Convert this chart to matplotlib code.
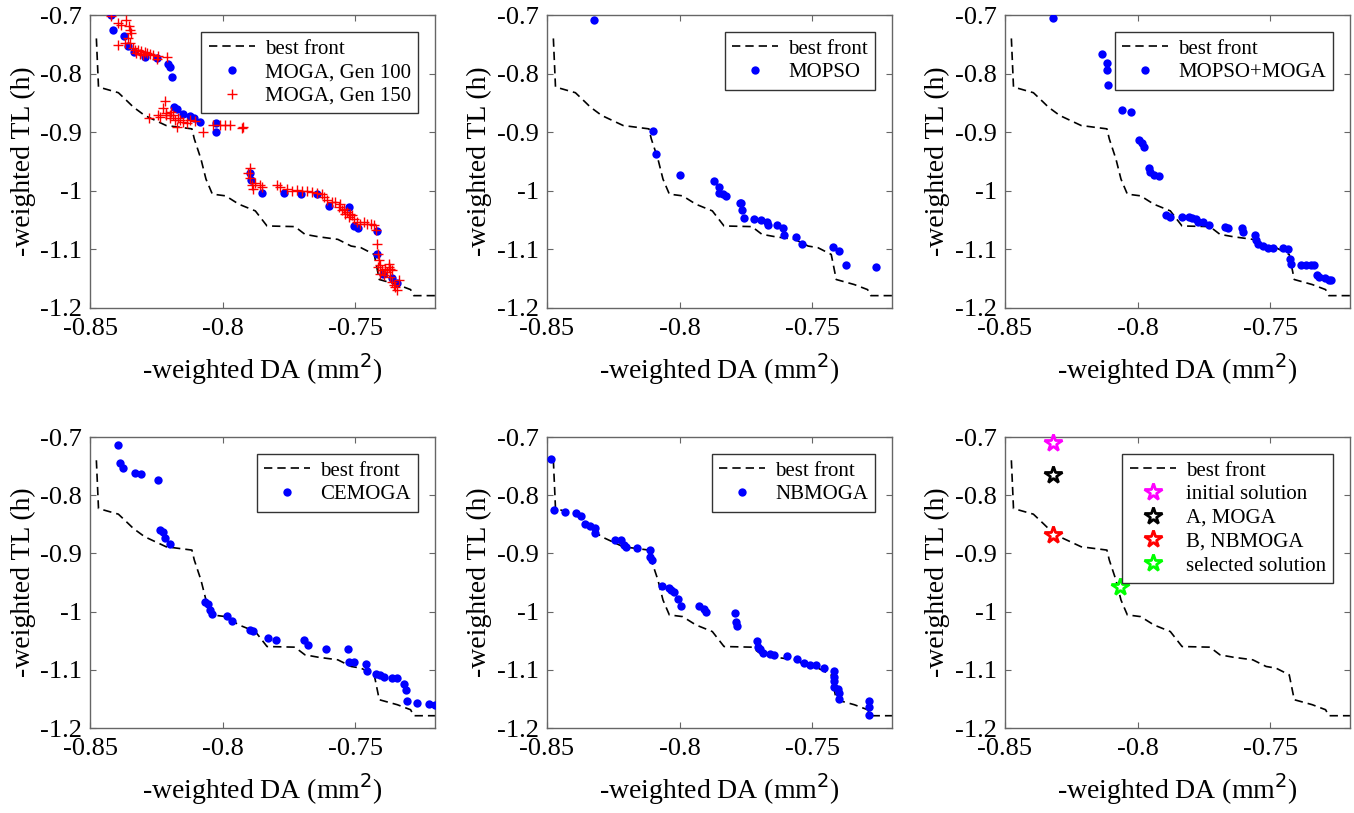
import matplotlib
matplotlib.use("Agg")
import matplotlib.pyplot as plt
from matplotlib.ticker import FixedLocator, FixedFormatter

plt.rcParams['font.family'] = ['Liberation Serif', 'DejaVu Serif']
plt.rcParams['axes.unicode_minus'] = False

# ---- data ----
front_x = [-0.8476, -0.8468, -0.8393, -0.8356, -0.8337, -0.8294, -0.8213, -0.8116, -0.8107, -0.8082,
           -0.8063, -0.8039, -0.7989, -0.7939, -0.7877, -0.7833, -0.7728, -0.7690, -0.7641, -0.7566,
           -0.7516, -0.7479, -0.7429, -0.7410, -0.7342, -0.7292, -0.7280, -0.7180]
front_y = [-0.7400, -0.8229, -0.8326, -0.8486, -0.8570, -0.8714, -0.8886, -0.8943, -0.9114, -0.9457,
           -0.9800, -1.0057, -1.0086, -1.0229, -1.0343, -1.0600, -1.0611, -1.0743, -1.0783, -1.0829,
           -1.0943, -1.0971, -1.1086, -1.1514, -1.1600, -1.1686, -1.1789, -1.1789]

moga100_x = [-0.8419, -0.8413, -0.8372, -0.8356, -0.8335, -0.8293, -0.8249, -0.8205, -0.8199, -0.8190,
             -0.8184, -0.8171, -0.8151, -0.8123, -0.8108, -0.8086, -0.8025, -0.8025, -0.7897, -0.7895,
             -0.7850, -0.7768, -0.7705, -0.7645, -0.7601, -0.7525, -0.7504, -0.7490, -0.7420, -0.7418,
             -0.7395, -0.7362, -0.7345]
moga100_y = [-0.7006, -0.7251, -0.7354, -0.7537, -0.7623, -0.7709, -0.7737, -0.7834, -0.7880, -0.8051,
             -0.8565, -0.8605, -0.8697, -0.8725, -0.8765, -0.8822, -0.8851, -0.8994, -0.9697, -0.9823,
             -1.0034, -1.0034, -1.0051, -1.0051, -1.0263, -1.0268, -1.0605, -1.0640, -1.0691, -1.1080,
             -1.1422, -1.1480, -1.1565]

moga150_x = [-0.8419, -0.8394, -0.8382, -0.8363, -0.8353, -0.8350, -0.8344, -0.8356, -0.8394, -0.8369,
             -0.8350, -0.8338, -0.8331, -0.8319, -0.8306, -0.8293, -0.8287, -0.8275, -0.8262, -0.8243,
             -0.8209, -0.8249, -0.8325, -0.8312, -0.8302,
             -0.8218, -0.8224, -0.8212, -0.8199, -0.8186, -0.8167, -0.8161, -0.8174, -0.8149, -0.8136,
             -0.8123, -0.8104, -0.8278, -0.8243, -0.8237, -0.8073, -0.8035, -0.8010, -0.7991, -0.7972,
             -0.7928, -0.7922, -0.8193, -0.8214, -0.8199, -0.8180,
             -0.7897, -0.7903, -0.7897, -0.7890, -0.7878, -0.7859, -0.7853, -0.7884, -0.7796, -0.7783,
             -0.7758, -0.7739, -0.7720, -0.7701, -0.7683, -0.7664, -0.7645, -0.7626, -0.7620, -0.7607,
             -0.7588, -0.7576, -0.7563, -0.7557, -0.7550, -0.7544, -0.7538, -0.7531, -0.7525, -0.7519,
             -0.7513, -0.7506, -0.7494, -0.7481, -0.7468, -0.7456, -0.7443, -0.7431, -0.7424,
             -0.7418, -0.7416, -0.7412, -0.7415, -0.7406, -0.7399, -0.7393, -0.7380, -0.7374, -0.7368,
             -0.7362, -0.7368, -0.7362, -0.7355, -0.7349, -0.7336, -0.7343, -0.7374, -0.7387, -0.7406]
moga150_y = [-0.7023, -0.7137, -0.7165, -0.7080, -0.7194, -0.7251, -0.7308, -0.7394, -0.7508, -0.7479,
             -0.7479, -0.7565, -0.7593, -0.7593, -0.7622, -0.7639, -0.7650, -0.7667, -0.7679, -0.7696,
             -0.7719, -0.7753, -0.7650, -0.7662, -0.7679,
             -0.8460, -0.8592, -0.8677, -0.8706, -0.8706, -0.8763, -0.8791, -0.8905, -0.8820, -0.8848,
             -0.8791, -0.8803, -0.8763, -0.8706, -0.8734, -0.8991, -0.8877, -0.8877, -0.8877, -0.8877,
             -0.8934, -0.8917, -0.8649, -0.8706, -0.8763, -0.8791,
             -0.9618, -0.9704, -0.9790, -0.9904, -0.9875, -0.9904, -0.9932, -0.9961, -0.9904, -0.9932,
             -0.9961, -1.0001, -0.9989, -1.0001, -1.0001, -1.0018, -1.0046, -1.0063, -1.0103, -1.0160,
             -1.0189, -1.0189, -1.0274, -1.0217, -1.0331, -1.0303, -1.0389, -1.0360, -1.0446, -1.0389,
             -1.0417, -1.0474, -1.0531, -1.0560, -1.0531, -1.0560, -1.0571, -1.0588, -1.0674,
             -1.0902, -1.1073, -1.1187, -1.1301, -1.1273, -1.1358, -1.1444, -1.1387, -1.1301, -1.1330,
             -1.1358, -1.1472, -1.1558, -1.1615, -1.1644, -1.1530, -1.1701, -1.1244, -1.1330, -1.1415]

mopso_x = [-0.8322, -0.8100, -0.8088, -0.7997, -0.7872, -0.7852, -0.7850, -0.7837, -0.7824, -0.7774,
           -0.7769, -0.7764, -0.7756, -0.7721, -0.7695, -0.7670, -0.7666, -0.7633, -0.7612, -0.7608,
           -0.7560, -0.7540, -0.7423, -0.7401, -0.7372, -0.7261]
mopso_y = [-0.7086, -0.8983, -0.9377, -0.9726, -0.9829, -0.9943, -1.0046, -1.0057, -1.0097, -1.0200,
           -1.0211, -1.0320, -1.0463, -1.0480, -1.0503, -1.0531, -1.0583, -1.0589, -1.0640, -1.0754,
           -1.0789, -1.0903, -1.0954, -1.1029, -1.1274, -1.1297]

mix_x = [-0.8321, -0.8136, -0.8117, -0.8117, -0.8113, -0.8058, -0.8024, -0.7994, -0.7985, -0.7976,
         -0.7958, -0.7954, -0.7939, -0.7918, -0.7894, -0.7879, -0.7832, -0.7805, -0.7795, -0.7780,
         -0.7771, -0.7755, -0.7730, -0.7670, -0.7660, -0.7606, -0.7603, -0.7558, -0.7553, -0.7547,
         -0.7529, -0.7509, -0.7491, -0.7454, -0.7434, -0.7427, -0.7422, -0.7384, -0.7367, -0.7348,
         -0.7335, -0.7325, -0.7317, -0.7295, -0.7280, -0.7271]
mix_y = [-0.7057, -0.7657, -0.7811, -0.7931, -0.8200, -0.8629, -0.8657, -0.9126, -0.9183, -0.9251,
         -0.9617, -0.9686, -0.9731, -0.9743, -1.0411, -1.0440, -1.0440, -1.0440, -1.0457, -1.0486,
         -1.0531, -1.0531, -1.0583, -1.0611, -1.0634, -1.0634, -1.0697, -1.0760, -1.0840, -1.0903,
         -1.0943, -1.0971, -1.0971, -1.0971, -1.1000, -1.1171, -1.1257, -1.1269, -1.1269, -1.1269,
         -1.1274, -1.1434, -1.1469, -1.1491, -1.1514, -1.1526]

cemoga_x = [-0.8394, -0.8388, -0.8375, -0.8331, -0.8309, -0.8243, -0.8237, -0.8224, -0.8218, -0.8199,
            -0.8067, -0.8057, -0.8048, -0.8039, -0.7985, -0.7966, -0.7897, -0.7887, -0.7831, -0.7800,
            -0.7695, -0.7679, -0.7612, -0.7529, -0.7524, -0.7504, -0.7461, -0.7458, -0.7424, -0.7408,
            -0.7393, -0.7361, -0.7345, -0.7317, -0.7311, -0.7305, -0.7267, -0.7223, -0.7200]
cemoga_y = [-0.7143, -0.7440, -0.7537, -0.7611, -0.7629, -0.7737, -0.8594, -0.8640, -0.8737, -0.8834,
            -0.9840, -0.9869, -0.9966, -1.0040, -1.0069, -1.0154, -1.0314, -1.0337, -1.0451, -1.0486,
            -1.0486, -1.0566, -1.0640, -1.0651, -1.0869, -1.0874, -1.0903, -1.1017, -1.1074, -1.1097,
            -1.1126, -1.1137, -1.1143, -1.1240, -1.1354, -1.1531, -1.1566, -1.1583, -1.1600]

nbmoga_x = [-0.8485, -0.8472, -0.8431, -0.8389, -0.8372, -0.8355, -0.8339, -0.8320, -0.8320, -0.8245,
            -0.8220, -0.8211, -0.8201, -0.8160, -0.8113, -0.8113, -0.8106, -0.8067, -0.8041, -0.8033,
            -0.8023, -0.8008, -0.7995, -0.7928, -0.7910, -0.7899, -0.7793, -0.7789, -0.7784, -0.7709,
            -0.7706, -0.7696, -0.7687, -0.7661, -0.7643, -0.7595, -0.7558, -0.7530, -0.7510, -0.7485,
            -0.7457, -0.7419, -0.7419, -0.7417, -0.7417, -0.7404, -0.7401, -0.7401, -0.7287, -0.7287,
            -0.7287]
nbmoga_y = [-0.7371, -0.8251, -0.8297, -0.8309, -0.8354, -0.8497, -0.8537, -0.8560, -0.8651, -0.8766,
            -0.8777, -0.8857, -0.8891, -0.8903, -0.8937, -0.9069, -0.9120, -0.9554, -0.9594, -0.9623,
            -0.9669, -0.9783, -0.9897, -0.9897, -0.9954, -1.0011, -1.0029, -1.0171, -1.0240, -1.0509,
            -1.0600, -1.0640, -1.0709, -1.0726, -1.0754, -1.0766, -1.0823, -1.0880, -1.0926, -1.0926,
            -1.0971, -1.1023, -1.1126, -1.1194, -1.1297, -1.1326, -1.1400, -1.1497, -1.1531, -1.1646,
            -1.1783]

star_labels = ['initial solution', 'A, MOGA', 'B, NBMOGA', 'selected solution']
star_x = [-0.8321, -0.8321, -0.8321, -0.8066]
star_y = [-0.7103, -0.7657, -0.8686, -0.9570]
star_colors = ['#ff00ff', 'black', 'red', '#00ff00']

xticks = [-0.85, -0.8, -0.75]
xticklabels = ['-0.85', '-0.8', '-0.75']
yticks = [-0.7, -0.8, -0.9, -1.0, -1.1, -1.2]
yticklabels = ['-0.7', '-0.8', '-0.9', '-1', '-1.1', '-1.2']

# ---- figure ----
W, H = 1354, 813
fig = plt.figure(figsize=(W / 100, H / 100), dpi=100)

cols = [90, 547, 1005]
rows = [(15, 308), (437, 728)]
axw = 345

TICK_FS = 19
LAB_FS = 20
LEG_FS = 15
SPINE = '#666666'


def make_ax(col, row):
    x0 = cols[col]
    y0, y1 = rows[row]
    ax = fig.add_axes([x0 / W, 1 - y1 / H, axw / W, (y1 - y0) / H])
    ax.set_xlim(-0.85, -0.72)
    ax.set_ylim(-1.2, -0.7)
    ax.xaxis.set_major_locator(FixedLocator(xticks))
    ax.xaxis.set_major_formatter(FixedFormatter(xticklabels))
    ax.yaxis.set_major_locator(FixedLocator(yticks))
    ax.yaxis.set_major_formatter(FixedFormatter(yticklabels))
    ax.tick_params(direction='in', top=True, right=True, length=4, width=0.8,
                   color=SPINE, labelsize=TICK_FS, labelcolor='black')
    ax.tick_params(axis='x', pad=7)
    ax.tick_params(axis='y', pad=6)
    for s in ax.spines.values():
        s.set_color(SPINE)
        s.set_linewidth(1.0)
    ax.set_xlabel('-weighted DA (mm$^2$)', fontsize=LAB_FS, labelpad=8)
    ax.set_ylabel('-weighted TL (h)', fontsize=LAB_FS, labelpad=3)
    ax.plot(front_x, front_y, color='black', linestyle=(0, (5, 3)), linewidth=1.2,
            label='best front', zorder=2)
    return ax


def legend(ax):
    ax.legend(loc='upper right', fontsize=LEG_FS, frameon=True, fancybox=False,
              edgecolor='#333333', framealpha=1, borderaxespad=0.8, handlelength=2.2,
              handletextpad=0.5, borderpad=0.35, labelspacing=0.2)


dot = dict(linestyle='none', marker='o', color='blue', markersize=6, markeredgewidth=0)

# Panel 1
ax = make_ax(0, 0)
ax.plot(moga100_x, moga100_y, label='MOGA, Gen 100', **dot, zorder=3)
ax.plot(moga150_x, moga150_y, linestyle='none', marker='+', color='red', markersize=7,
        markeredgewidth=1.0, label='MOGA, Gen 150', zorder=4)
legend(ax)

# Panel 2
ax = make_ax(1, 0)
ax.plot(mopso_x, mopso_y, label='MOPSO', **dot, zorder=3)
legend(ax)

# Panel 3
ax = make_ax(2, 0)
ax.plot(mix_x, mix_y, label='MOPSO+MOGA', **dot, zorder=3)
legend(ax)

# Panel 4
ax = make_ax(0, 1)
ax.plot(cemoga_x, cemoga_y, label='CEMOGA', **dot, zorder=3)
legend(ax)

# Panel 5
ax = make_ax(1, 1)
ax.plot(nbmoga_x, nbmoga_y, label='NBMOGA', **dot, zorder=3)
legend(ax)

# Panel 6
ax = make_ax(2, 1)
for lab, sx, sy, c in zip(star_labels, star_x, star_y, star_colors):
    ax.plot([sx], [sy], linestyle='none', marker='*', markersize=13, markerfacecolor='white',
            markeredgecolor=c, markeredgewidth=2, label=lab, zorder=4, clip_on=False)
legend(ax)

fig.savefig('out.png', dpi=100)
